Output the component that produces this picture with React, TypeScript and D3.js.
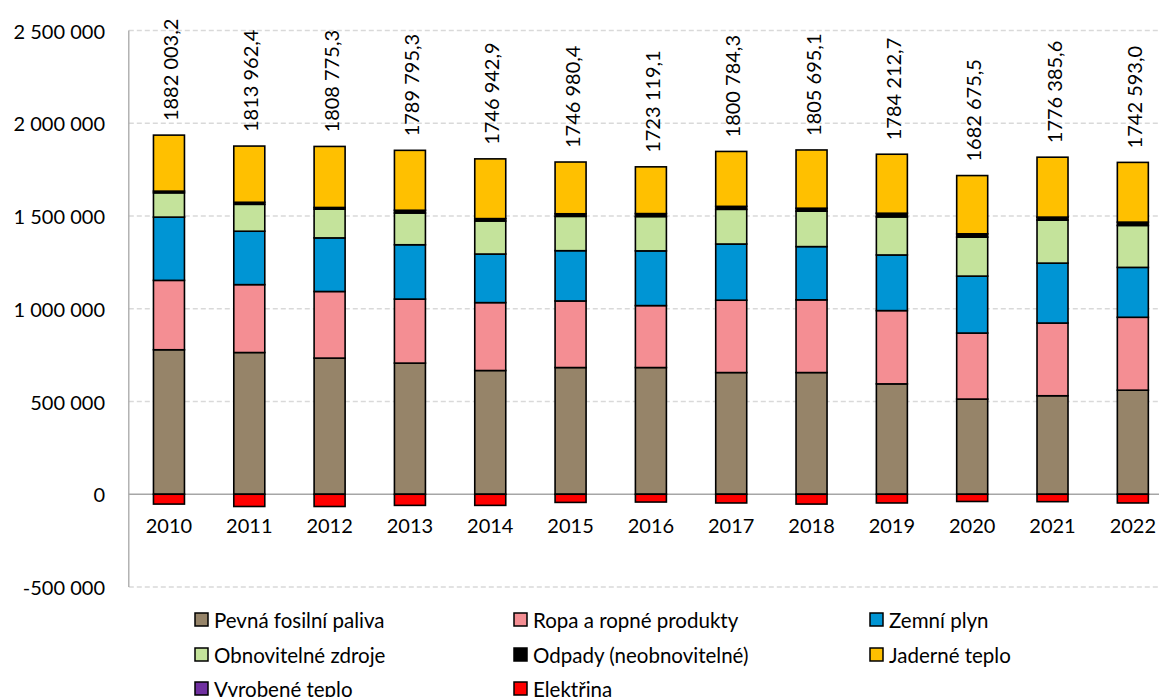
import React from "react";
import * as d3 from "d3";

const years = ["2010","2011","2012","2013","2014","2015","2016","2017","2018","2019","2020","2021","2022"];
const pevna = [779000, 764000, 734000, 707000, 667000, 683000, 683000, 656000, 656000, 595000, 513000, 531000, 561000];
const ropa = [374000, 366000, 359000, 345000, 366000, 359000, 334000, 390000, 392000, 395000, 356000, 392000, 393000];
const plyn = [341000, 288000, 289000, 293000, 262000, 271000, 295000, 303000, 287000, 300000, 307000, 323000, 269000];
const obnov = [131000, 145000, 155000, 171000, 178000, 185000, 185000, 187000, 191000, 205000, 210000, 232000, 226000];
const odpady = [9000, 11000, 9000, 15000, 13000, 14000, 16000, 16000, 16000, 20000, 18000, 16000, 18000];
const jaderne = [302000, 303000, 329000, 323000, 322000, 279000, 252000, 296000, 314000, 318000, 314000, 323000, 322000];
const vyrobene = [0, 0, 0, 0, 0, 0, 0, 0, 0, 0, 0, 0, 0];
const elektrina = [-53000, -66000, -66000, -60000, -60000, -44000, -42000, -47000, -53000, -47000, -39000, -40000, -47000];
const totalLabels = ["1882 003,2","1813 962,4","1808 775,3","1789 795,3","1746 942,9","1746 980,4","1723 119,1","1800 784,3","1805 695,1","1784 212,7","1682 675,5","1776 385,6","1742 593,0"];
const yTicks = [-500000, 0, 500000, 1000000, 1500000, 2000000, 2500000];
const yTickLabels = ["-500 000","0","500 000","1 000 000","1 500 000","2 000 000","2 500 000"];

const seriesNames = ["Pevná fosilní paliva","Ropa a ropné produkty","Zemní plyn","Obnovitelné zdroje","Odpady (neobnovitelné)","Jaderné teplo","Vyrobené teplo","Elektřina"];
const seriesColors = ["#968469","#F48E93","#0095D4","#C4E39B","#000000","#FFC000","#7030A0","#FF0000"];
const seriesData = [pevna, ropa, plyn, obnov, odpady, jaderne, vyrobene, elektrina];

const W = 1159, H = 697;
const FONT = "Lato, 'Open Sans', sans-serif";

export default function App() {
  const plotLeft = 128.8, plotRight = 1173;
  const x = d3.scaleBand<string>().domain(years).range([plotLeft, plotRight]).paddingInner(0.6).paddingOuter(0.3);
  const y = d3.scaleLinear().domain([-500000, 2500000]).range([587, 30.5]);
  const bw = 31;

  const bars: JSX.Element[] = [];
  const labels: JSX.Element[] = [];
  years.forEach((yr, i) => {
    const cx = (x(yr) as number) + x.bandwidth() / 2;
    let pos = 0, neg = 0;
    seriesData.forEach((arr, s) => {
      const v = arr[i];
      if (v === 0) return;
      let y0, y1;
      if (v > 0) { y0 = pos; y1 = pos + v; pos = y1; }
      else { y0 = neg + v; y1 = neg; neg = y0; }
      bars.push(
        <rect key={`${yr}-${s}`} x={cx - bw / 2} y={y(y1)} width={bw} height={Math.max(0.5, y(y0) - y(y1))}
          fill={seriesColors[s]} stroke="#000" strokeWidth={1.6} />
      );
    });
    const topY = y(pos);
    labels.push(
      <text key={`l-${yr}`} transform={`translate(${cx + 1},${topY - 14}) rotate(-90)`} fontSize={20}
        dominantBaseline="central" textAnchor="start" fill="#000" fontFamily={FONT}>{totalLabels[i]}</text>
    );
  });

  const legendCols = [195, 514, 870];
  const legendRows = [620, 655, 689];

  return (
    <svg width={W} height={H} style={{ position: "absolute", left: 0, top: 0, background: "#fff" }} fontFamily={FONT}>
      {yTicks.map((t, i) => t !== 0 && (
        <line key={`g${i}`} x1={plotLeft} x2={W} y1={y(t)} y2={y(t)} stroke="#D9D9D9" strokeWidth={1.3} strokeDasharray="5,3" />
      ))}
      <line x1={plotLeft} x2={plotLeft} y1={y(2500000)} y2={y(-500000)} stroke="#A6A6A6" strokeWidth={1.3} />
      <line x1={plotLeft} x2={W} y1={y(0)} y2={y(0)} stroke="#A6A6A6" strokeWidth={1.3} />
      {yTicks.map((t, i) => (
        <text key={`yt${i}`} x={105} y={y(t)} textAnchor="end" dominantBaseline="central" fontSize={20} fill="#000">{yTickLabels[i]}</text>
      ))}
      {bars}
      {labels}
      {years.map((yr) => (
        <text key={`x${yr}`} x={(x(yr) as number) + x.bandwidth() / 2} y={525} textAnchor="middle" dominantBaseline="central" fontSize={20} fill="#000">{yr}</text>
      ))}
      {seriesNames.map((n, i) => {
        const col = i % 3, row = Math.floor(i / 3);
        const lx = legendCols[col], ly = legendRows[row];
        return (
          <g key={`lg${i}`}>
            <rect x={lx} y={ly - 7} width={13} height={13} fill={seriesColors[i]} stroke="#000" strokeWidth={1.5} />
            <text x={lx + 19} y={ly} dominantBaseline="central" fontSize={20.5} fill="#000">{n}</text>
          </g>
        );
      })}
    </svg>
  );
}
